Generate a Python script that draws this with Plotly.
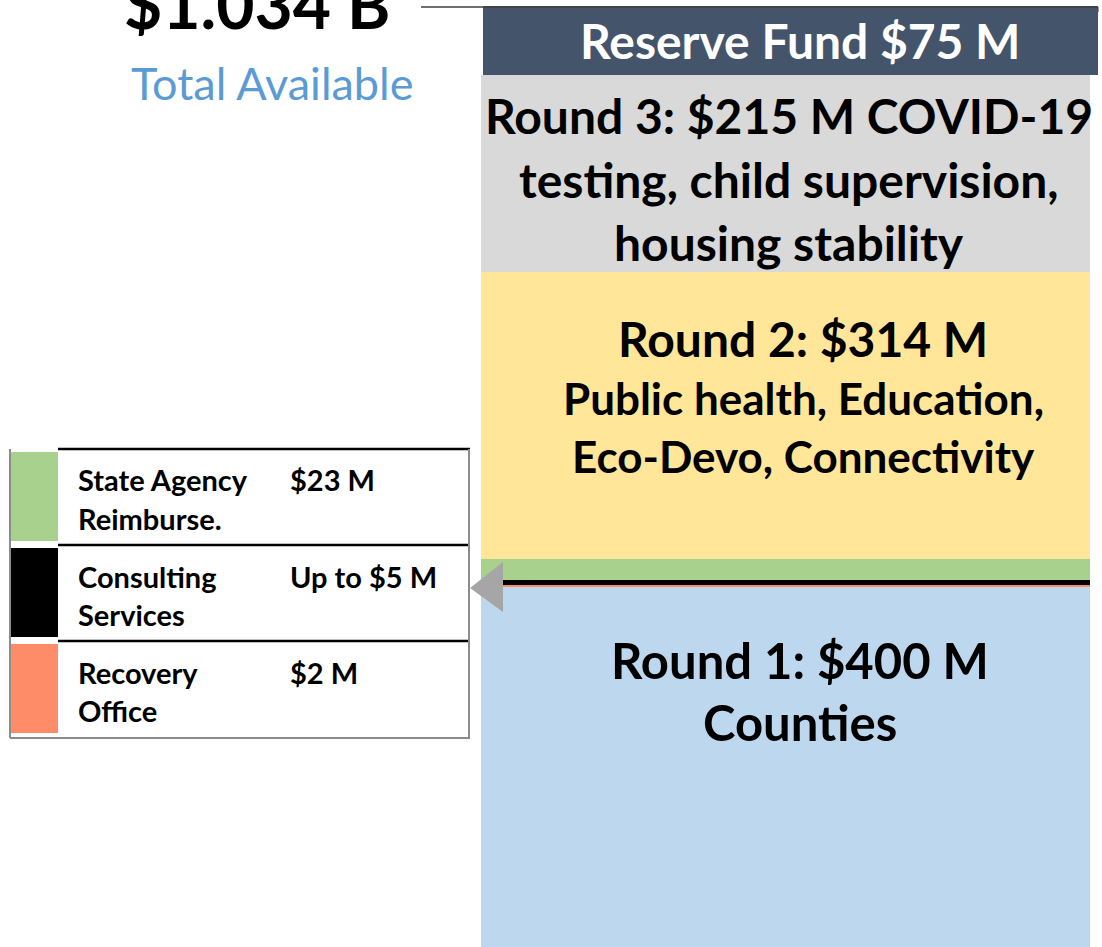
import numpy as np
import plotly.graph_objects as go

W, H = 1102, 947

# ---- data ----
segments = ["Round 1", "Recovery Office", "Consulting Services", "State Agency Reimburse.",
            "Round 2", "Round 3", "Reserve Fund"]
values_m = [400, 2, 5, 23, 314, 215, 75]
seg_colors = ["#BDD7EE", "#FF8C69", "#000000", "#A9D18E", "#FFE699", "#D9D9D9", "#44546A"]

total_label = "$1.034 B"
total_sub = "Total Available"

reserve_lines = ["Reserve Fund $75 M"]
round3_lines = ["Round 3: $215 M COVID-19", "testing, child supervision,", "housing stability"]
round2_lines = ["Round 2: $314 M", "Public health, Education,", "Eco-Devo, Connectivity"]
round1_lines = ["Round 1: $400 M", "Counties"]

legend_names = [["State Agency", "Reimburse."], ["Consulting", "Services"], ["Recovery", "Office"]]
legend_amounts = ["$23 M", "Up to $5 M", "$2 M"]
legend_colors = ["#A9D18E", "#000000", "#FF8C69"]

FONT = "Lato"

def px(x):
    return x / W

def py(y):
    return 1 - y / H

fig = go.Figure()

bases = np.concatenate([[0], np.cumsum(values_m)[:-1]])
for name, v, b, c in zip(segments, values_m, bases, seg_colors):
    if name == "Reserve Fund":
        xc, wd = (483 + 1098) / 2, 1098 - 483
    else:
        xc, wd = (481 + 1090) / 2, 1090 - 481
    fig.add_trace(go.Bar(x=[xc], y=[v], base=[b], width=[wd], name=name,
                         marker=dict(color=c, line=dict(width=0)),
                         hoverinfo="name+y", showlegend=False))

annotations = []

def txt(text, x, y, size, color="#000000", bold=True, xanchor="center"):
    t = f"<b>{text}</b>" if bold else text
    annotations.append(dict(text=t, x=px(x), y=py(y), xref="paper", yref="paper",
                            xanchor=xanchor, yanchor="middle", showarrow=False,
                            font=dict(family=FONT, size=size, color=color)))

# title block
txt(total_label, 257, 4, 66)
txt(total_sub, 272, 83, 45, color="#5B9BD5", bold=False)

# bar labels
txt(reserve_lines[0], 800, 40, 48, color="#FFFFFF")
for line, y in zip(round3_lines, [115, 180, 243]):
    txt(line, 789, y, 48)
for line, y, s in zip(round2_lines, [338, 398, 456], [48, 44, 44]):
    txt(line, 803, y, s)
for line, y in zip(round1_lines, [660, 722]):
    txt(line, 800, y, 49)

# legend table
shapes = []
row_tops = [449, 545, 641]
row_h = 96
for i, (nm, amt, col) in enumerate(zip(legend_names, legend_amounts, legend_colors)):
    top = row_tops[i]
    shapes.append(dict(type="rect", xref="paper", yref="paper",
                       x0=px(11), x1=px(58), y0=py(top + 3), y1=py(top + row_h - 4),
                       fillcolor=col, line=dict(width=0)))
    shapes.append(dict(type="line", xref="paper", yref="paper",
                       x0=px(58), x1=px(470), y0=py(top), y1=py(top),
                       line=dict(color="#000000", width=2.5)))
    txt(nm[0], 76, top + 31, 29, xanchor="left")
    txt(nm[1], 76, top + 69, 29, xanchor="left")
    txt(amt, 288, top + 31, 29, xanchor="left")

# grey outer borders
for x0, y0, x1, y1 in [(10, 449, 10, 738), (10, 738, 470, 738), (469, 449, 469, 738)]:
    shapes.append(dict(type="line", xref="paper", yref="paper",
                       x0=px(x0), x1=px(x1), y0=py(y0), y1=py(y1),
                       line=dict(color="#8C8C8C", width=2)))

# arrow triangle
shapes.append(dict(type="path", xref="paper", yref="paper",
                   path=f"M {px(470)} {py(588)} L {px(503)} {py(562)} L {px(503)} {py(612)} Z",
                   fillcolor="#A6A6A6", line=dict(width=0)))

# connector line at top
shapes.append(dict(type="line", xref="paper", yref="paper",
                   x0=px(421), x1=px(1098), y0=py(7), y1=py(7),
                   line=dict(color="#404040", width=1.5)))
shapes.append(dict(type="line", xref="paper", yref="paper",
                   x0=px(1098), x1=px(1098), y0=py(7), y1=py(12),
                   line=dict(color="#404040", width=1)))

fig.update_layout(
    width=W, height=H,
    margin=dict(l=0, r=0, t=0, b=0),
    paper_bgcolor="#FFFFFF", plot_bgcolor="#FFFFFF",
    barmode="overlay", bargap=0,
    xaxis=dict(domain=[0, 1], range=[0, W], visible=False, fixedrange=True),
    yaxis=dict(domain=[0, 1], range=[7, 1040.5], visible=False, fixedrange=True),
    shapes=shapes, annotations=annotations,
    showlegend=False,
)

fig.write_html("out.html", config={"displayModeBar": False},
               post_script="document.body.style.margin='0';")
